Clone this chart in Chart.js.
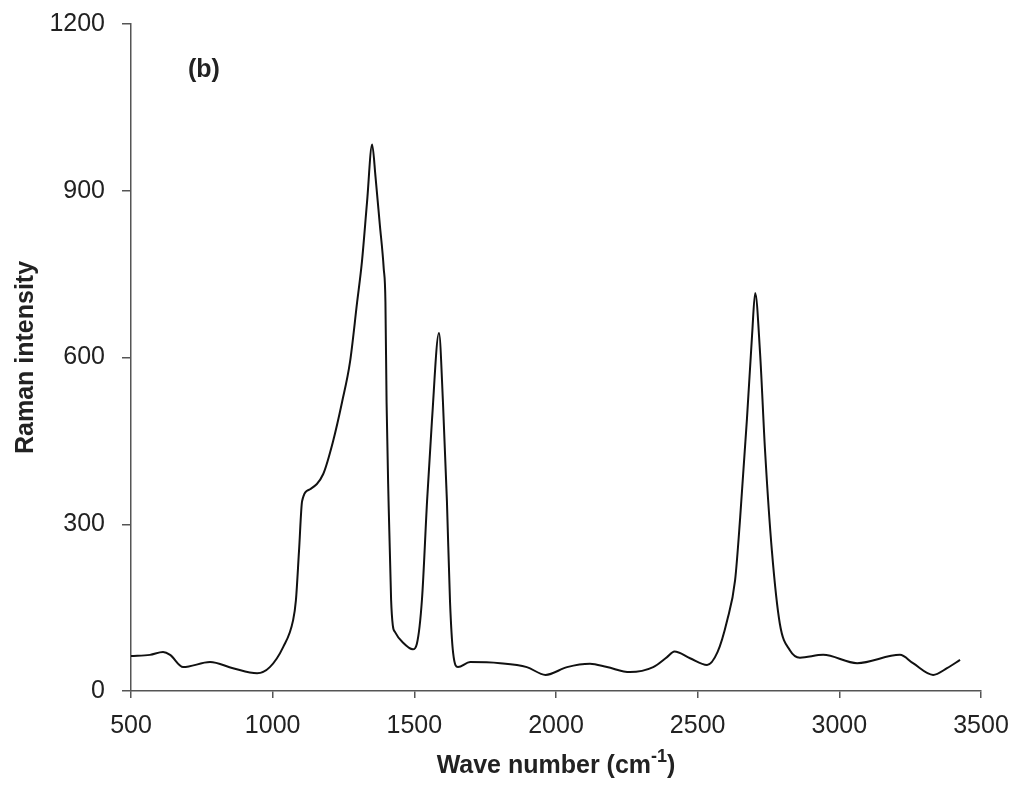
<!DOCTYPE html>
<html>
<head>
<meta charset="utf-8">
<script src="https://cdn.jsdelivr.net/npm/chart.js@4.4.0/dist/chart.umd.min.js"></script>
<style>
  html, body { margin: 0; padding: 0; background: #fff; }
  #wrap { width: 1020px; height: 794px; position: relative; }
</style>
</head>
<body>
<div id="wrap"><canvas id="chart-raman"></canvas></div>
<script>
// Raman spectrum
var waveNumbers = [500, 567, 613, 638, 684, 779, 860, 945, 990, 1037, 1072, 1082, 1093, 1104, 1132, 1178, 1213, 1245, 1273, 1298, 1315, 1333, 1351, 1363, 1378, 1392, 1398, 1402, 1409, 1418, 1424, 1432, 1460, 1495, 1509, 1527, 1545, 1562, 1587, 1601, 1615, 1626, 1637, 1654, 1697, 1803, 1897, 1963, 2039, 2120, 2180, 2261, 2343, 2392, 2418, 2473, 2533, 2570, 2604, 2632, 2650, 2674, 2692, 2703, 2720, 2738, 2762, 2790, 2826, 2861, 2943, 3063, 3214, 3260, 3331, 3380, 3426];
var intensities = [63, 65, 70, 65, 43, 52, 41, 32, 43, 79, 127, 163, 252, 342, 363, 390, 449, 520, 592, 699, 772, 879, 983, 925, 840, 760, 700, 520, 342, 164, 118, 106, 87, 75, 85, 165, 342, 485, 644, 520, 342, 160, 68, 43, 52, 50, 43, 29, 43, 49, 43, 34, 43, 61, 71, 59, 47, 70, 127, 199, 312, 490, 640, 716, 610, 431, 252, 121, 73, 60, 65, 50, 65, 50, 29, 41, 56];
var xTicks = [500, 1000, 1500, 2000, 2500, 3000, 3500];
var yTicks = [0, 300, 600, 900, 1200];

var points = [];
for (var i = 0; i < waveNumbers.length; i++) {
    points.push({ x: waveNumbers[i], y: intensities[i] });
}

var textColor = '#222';
var axisColor = '#555';
var fontFamily = "'Liberation Sans', Arial, sans-serif";

// panel label and x title with superscript
var extraText = {
    id: 'extraText',
    afterDraw: function (chart) {
        var ctx = chart.ctx;
        var area = chart.chartArea;
        ctx.save();
        ctx.fillStyle = textColor;
        ctx.textBaseline = 'middle';
        ctx.font = 'bold 25px ' + fontFamily;
        ctx.textAlign = 'left';
        ctx.fillText('(b)', 188, 70);

        var main = 'Wave number (cm';
        var sup = '-1';
        var close = ')';
        ctx.font = 'bold 25px ' + fontFamily;
        var w1 = ctx.measureText(main).width;
        var w3 = ctx.measureText(close).width;
        ctx.font = 'bold 18px ' + fontFamily;
        var w2 = ctx.measureText(sup).width;
        var cx = (area.left + area.right) / 2;
        var x0 = cx - (w1 + w2 + w3) / 2;
        var y0 = 766;
        ctx.font = 'bold 25px ' + fontFamily;
        ctx.fillText(main, x0, y0);
        ctx.font = 'bold 18px ' + fontFamily;
        ctx.fillText(sup, x0 + w1, y0 - 9);
        ctx.font = 'bold 25px ' + fontFamily;
        ctx.fillText(close, x0 + w1 + w2, y0);
        ctx.restore();
    }
};

function plainLabel(value) {
    return String(value);
}

var ctx = document.getElementById('chart-raman');
var myChart = new Chart(ctx, {
    type: 'line',
    data: {
        datasets: [{
            data: points,
            borderColor: '#111',
            borderWidth: 2,
            pointRadius: 0,
            fill: false,
            cubicInterpolationMode: 'monotone'
        }]
    },
    options: {
        responsive: true,
        maintainAspectRatio: false,
        animation: false,
        layout: {
            padding: { left: 0, right: 39, top: 24, bottom: 0 }
        },
        plugins: {
            legend: { display: false },
            tooltip: { enabled: false }
        },
        scales: {
            x: {
                type: 'linear',
                min: 500,
                max: 3500,
                afterBuildTicks: function (scale) {
                    scale.ticks = xTicks.map(function (v) { return { value: v }; });
                },
                afterFit: function (scale) {
                    scale.height = 103;
                    scale.paddingLeft = 0;
                    scale.paddingRight = 0;
                },
                grid: { drawOnChartArea: false, drawTicks: true, tickLength: 7, color: axisColor, lineWidth: 1.5 },
                border: { color: axisColor, width: 1.5 },
                ticks: { color: textColor, font: { size: 25, family: fontFamily }, padding: 13, maxRotation: 0, callback: plainLabel }
            },
            y: {
                min: 0,
                max: 1200,
                afterBuildTicks: function (scale) {
                    scale.ticks = yTicks.map(function (v) { return { value: v }; });
                },
                afterFit: function (scale) {
                    scale.width = 131;
                    scale.paddingTop = 0;
                    scale.paddingBottom = 0;
                },
                grid: { drawOnChartArea: false, drawTicks: true, tickLength: 9, color: axisColor, lineWidth: 1.5 },
                border: { color: axisColor, width: 1.5 },
                ticks: { color: textColor, font: { size: 25, family: fontFamily }, padding: 17, callback: plainLabel },
                title: {
                    display: true,
                    text: 'Raman intensity',
                    color: textColor,
                    font: { size: 25, weight: 'bold', family: fontFamily },
                    padding: { top: 11, bottom: 0 }
                }
            }
        }
    },
    plugins: [extraText]
});
</script>
</body>
</html>
